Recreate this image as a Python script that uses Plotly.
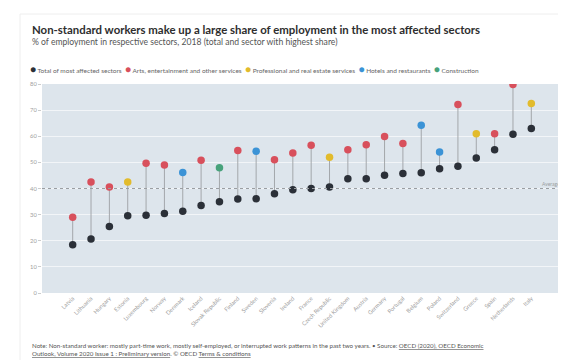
import plotly.graph_objects as go

countries = ["Latvia", "Lithuania", "Hungary", "Estonia", "Luxembourg", "Norway", "Denmark",
             "Iceland", "Slovak Republic", "Finland", "Sweden", "Slovenia", "Ireland", "France",
             "Czech Republic", "United Kingdom", "Austria", "Germany", "Portugal", "Belgium",
             "Poland", "Switzerland", "Greece", "Spain", "Netherlands", "Italy"]
total = [18.5, 20.7, 25.5, 29.6, 29.8, 30.4, 31.3, 33.5, 34.9, 36.0, 36.1, 38.0, 39.5, 40.0,
         40.6, 43.7, 43.7, 45.1, 45.7, 46.0, 47.6, 48.5, 51.7, 54.8, 60.8, 63.0]
highest = [29.0, 42.5, 40.6, 42.5, 49.7, 49.0, 46.1, 50.8, 47.9, 54.5, 54.3, 51.0, 53.6, 56.6,
           52.0, 54.8, 56.7, 59.9, 57.2, 64.2, 54.0, 72.2, 61.0, 61.0, 79.8, 72.5]
sector = ["Arts", "Arts", "Arts", "Prof", "Arts", "Arts", "Hotels", "Arts", "Constr", "Arts",
          "Hotels", "Arts", "Arts", "Arts", "Prof", "Arts", "Arts", "Arts", "Arts", "Hotels",
          "Hotels", "Arts", "Prof", "Arts", "Arts", "Prof"]
sector_names = {
    "Total": "Total of most affected sectors",
    "Arts": "Arts, entertainment and other services",
    "Prof": "Professional and real estate services",
    "Hotels": "Hotels and restaurants",
    "Constr": "Construction",
}
average = 40
y_ticks = [0, 10, 20, 30, 40, 50, 60, 70, 80]

colors = {"Total": "#2b3038", "Arts": "#d8505c", "Prof": "#e2bb2c",
          "Hotels": "#3b93d6", "Constr": "#47a27b"}

fig = go.Figure()

# connector lines
lx, ly = [], []
for c, t, h in zip(countries, total, highest):
    lx += [c, c, None]
    ly += [t, h, None]
fig.add_trace(go.Scatter(x=lx, y=ly, mode="lines", line=dict(color="#a3a7ab", width=1),
                         hoverinfo="skip", showlegend=False))

fig.add_trace(go.Scatter(x=countries, y=total, mode="markers", name=sector_names["Total"],
                         marker=dict(color=colors["Total"], size=7.5), showlegend=False))
for key in ["Arts", "Prof", "Hotels", "Constr"]:
    xs = [c for c, s in zip(countries, sector) if s == key]
    ys = [h for h, s in zip(highest, sector) if s == key]
    fig.add_trace(go.Scatter(x=xs, y=ys, mode="markers", name=sector_names[key],
                             marker=dict(color=colors[key], size=7.5), showlegend=False))

fig.add_hline(y=average, line=dict(color="#9a9ea2", width=1, dash="dot"))
fig.add_annotation(x=1, y=average, xref="paper", yref="y", text="Average", showarrow=False,
                   xanchor="right", yanchor="bottom", font=dict(size=5, color="#9a9ea2"), yshift=0)

legend_text = "&nbsp;&nbsp;".join(
    f'<span style="color:{colors[k]};font-size:10px">●</span>&nbsp;{sector_names[k]}'
    for k in ["Total", "Arts", "Prof", "Hotels", "Constr"])

W, H = 566, 360
L, R, T, B = 34, 12, 76, 75
pw, ph = W - L - R, H - T - B

def px(x):
    return (x - L) / pw

def py(y):
    return (H - B - y) / ph

fig.add_annotation(x=px(22), y=py(21), xref="paper", yref="paper", xanchor="left", yanchor="middle",
                   showarrow=False,
                   text="<b>Non-standard workers make up a large share of employment in the most affected sectors</b>",
                   font=dict(family="Lato", size=11.4, color="#2e2e2e"))
fig.add_annotation(x=px(22), y=py(34), xref="paper", yref="paper", xanchor="left", yanchor="middle",
                   showarrow=False,
                   text="% of employment in respective sectors, 2018 (total and sector with highest share)",
                   font=dict(family="Lato", size=8.6, color="#555555"))
fig.add_annotation(x=px(20), y=py(61), xref="paper", yref="paper", xanchor="left", yanchor="middle",
                   showarrow=False, text=legend_text,
                   font=dict(family="Lato", size=6.5, color="#666666"))
fig.add_annotation(x=px(22), y=py(341), xref="paper", yref="paper", xanchor="left", yanchor="middle",
                   showarrow=False, align="left",
                   text="Note: Non-standard worker: mostly part-time work, mostly self-employed, or interrupted work patterns in the past two years. • Source: <u>OECD (2020), OECD Economic</u><br><u>Outlook, Volume 2020 Issue 1 : Preliminary version</u>. © OECD <u>Terms &amp; conditions</u>",
                   font=dict(family="Lato", size=6.2, color="#555555"))

fig.add_shape(type="line", xref="paper", yref="paper", x0=px(12), x1=px(566), y0=py(6), y1=py(6),
              line=dict(color="#eeeeee", width=1))
fig.add_shape(type="line", xref="paper", yref="paper", x0=px(12), x1=px(12), y0=py(6), y1=py(360),
              line=dict(color="#eeeeee", width=1))

fig.update_layout(
    width=W, height=H,
    margin=dict(l=L, r=R, t=T, b=B),
    paper_bgcolor="white",
    plot_bgcolor="#dde5ec",
    font=dict(family="Lato", color="#999999"),
    showlegend=False,
)
fig.update_xaxes(type="category", categoryorder="array", categoryarray=countries,
                 tickangle=-45, tickfont=dict(size=5.8, color="#a0a0a0"),
                 showgrid=False, zeroline=False, showline=False, ticks="")
fig.update_yaxes(range=[0, 80], tickvals=y_ticks, tickfont=dict(size=5.8, color="#a0a0a0"),
                 gridcolor="#f2f5f8", gridwidth=1, zeroline=False, showline=False,
                 ticks="outside", ticklen=3, tickcolor="#cccccc")

fig.write_html("out.html")
